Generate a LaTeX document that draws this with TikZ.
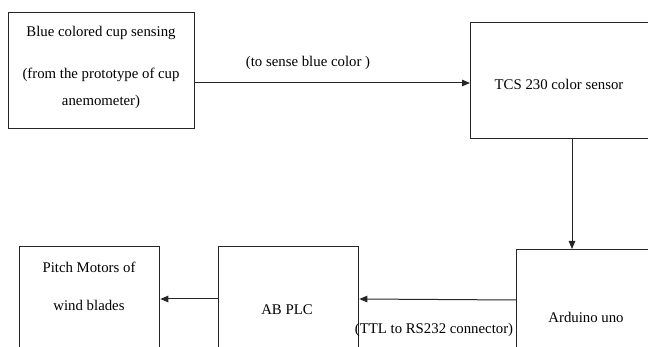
\documentclass[tikz,border=0pt]{standalone}
\usepackage{fontspec}
\setmainfont{Liberation Serif}
\usetikzlibrary{arrows.meta,calc}
\begin{document}
\begin{tikzpicture}[x=1pt,y=-1pt,
  box/.style={draw=black!85,line width=1.3pt,rectangle,inner sep=0pt,anchor=north west},
  lbl/.style={font=\fontsize{14.8}{17}\selectfont,inner sep=0pt,anchor=center},
  arr/.style={draw=black!85,line width=1pt,-{Triangle[length=8pt,width=6.5pt]}}]
\useasboundingbox (0,0) rectangle (648,347);
\fill[white] (0,0) rectangle (648,347);
\clip (0,0) rectangle (648,347);
% boxes
\node[box,minimum width=186pt,minimum height=116pt] (b1) at (8,12) {};
\node[box,minimum width=200pt,minimum height=116pt] (tcs) at (470,22) {};
\node[box,minimum width=150pt,minimum height=120pt] (ard) at (516,249) {};
\node[box,minimum width=140pt,minimum height=120pt] (plc) at (218,246) {};
\node[box,minimum width=140pt,minimum height=120pt] (pm) at (19,246) {};
% texts
\node[lbl] (t1) at (101,33) {Blue colored cup sensing};
\node[lbl] (t2) at (101,75) {(from the prototype of cup};
\node[lbl] (t3) at (101,102) {anemometer)};
\node[lbl] (t4) at (308,63) {(to sense blue color )};
\node[lbl] (t5) at (559,84) {TCS 230 color sensor};
\node[lbl] (t6) at (586,317) {Arduino uno};
\node[lbl] (t7) at (287,310) {AB PLC};
\node[lbl] (t8) at (89,267) {Pitch Motors of};
\node[lbl] (t9) at (89,305) {wind blades};
\node[lbl] (t10) at (434,330) {(TTL to RS232 connector)};
% connectors
\coordinate (ya) at (0,83);
\coordinate (xv) at (572,0);
\coordinate (yb) at (0,300);
\coordinate (yc) at (0,299);
\draw[arr] (b1.east |- ya) -- (tcs.west |- ya);
\draw[arr] (tcs.south -| xv) -- (ard.north -| xv);
\draw[arr] (ard.west |- yb) -- (plc.east |- yc);
\draw[arr] (plc.west |- yc) -- (pm.east |- yc);
\end{tikzpicture}
\end{document}
